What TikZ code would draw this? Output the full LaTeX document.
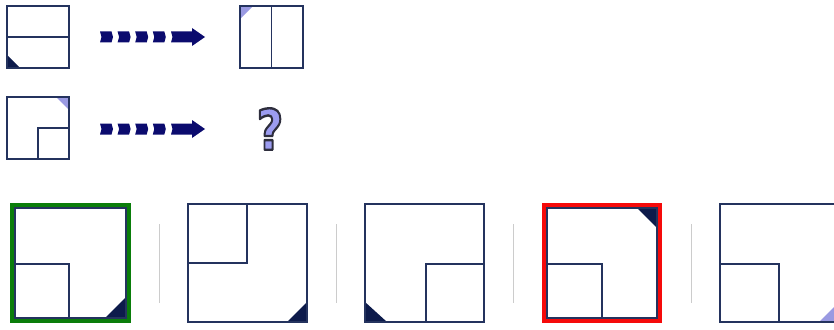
\documentclass[tikz,border=0pt]{standalone}
\usepackage{fontspec}
\newfontfamily\qfont{DejaVu Sans}
\definecolor{boxline}{HTML}{24335E}
\definecolor{darktri}{HTML}{0D1B4B}
\definecolor{lighttri}{HTML}{9A9AE2}
\definecolor{arrownavy}{HTML}{0B0B6E}
\definecolor{qfill}{HTML}{9C9CF0}
\definecolor{okgreen}{HTML}{0A7D0A}
\definecolor{badred}{HTML}{F50A0A}
\definecolor{sepgray}{HTML}{CCCCCC}
\newcommand\outlinedtext[1]{\special{pdf:literal direct 0.18 0.18 0.24 RG 2 Tr 2.4 w 1 j}#1\special{pdf:literal direct 0 Tr}}
\tikzset{
  panel/.style={draw=boxline, line width=1.8pt, fill=white},
  divider/.style={draw=boxline, line width=1.8pt},
  darkcorner/.style={fill=darktri, draw=none},
  lightcorner/.style={fill=lighttri, draw=none},
  arrowpart/.style={fill=arrownavy, draw=none},
  separator/.style={draw=sepgray, line width=1pt},
  goodframe/.style={draw=okgreen, line width=5pt},
  badframe/.style={draw=badred, line width=5pt},
  pics/dasharrow/.style={code={
    \foreach \i in {0,1,2,3}{
      \fill[arrowpart] ({17.6*\i},-5.5) -- ({17.6*\i+11.5},-5.5) -- ({17.6*\i+13},0) -- ({17.6*\i+11.5},5.5) -- ({17.6*\i},5.5) -- ({17.6*\i+1.5},0) -- cycle;
    }
    \fill[arrowpart] (71,-5.5) -- (92,-5.5) -- (92,-9) -- (105,0) -- (92,9) -- (92,5.5) -- (71,5.5) -- (72.5,0) -- cycle;
  }}
}
\begin{document}
\begin{tikzpicture}[x=1pt,y=-1pt]
\useasboundingbox (0,0) rectangle (834,329);
\begin{scope}
\clip (0,0) rectangle (834,329);
% ---- row 1
\draw[panel] (7,6) rectangle (69,68);
\fill[darkcorner] (7,68) -- (20,68) -- (7,55) -- cycle;
\draw[divider] (7,37) -- (69,37);
\draw[boxline, line width=1.8pt] (7,6) rectangle (69,68);
\pic at (100,37) {dasharrow};
\draw[panel] (240,6) rectangle (303,68);
\fill[lightcorner] (240,6) -- (253,6) -- (240,19) -- cycle;
\draw[divider] (271.5,6) -- (271.5,68);
\draw[boxline, line width=1.8pt] (240,6) rectangle (303,68);
% ---- row 2
\draw[panel] (7,97) rectangle (69,159);
\fill[lightcorner] (56,97) -- (69,97) -- (69,110) -- cycle;
\draw[boxline, line width=1.8pt] (7,97) rectangle (69,159);
\draw[divider] (38,159) -- (38,128) -- (69,128);
\pic at (100,129) {dasharrow};
\node (qmark) [text=qfill, font=\qfont\bfseries\fontsize{56}{56}\selectfont, inner sep=0pt, xscale=0.82] at (270,129) {\outlinedtext{?}};
% ---- options
% option 1 (green)
\draw[goodframe] (12.5,205.5) rectangle (128.5,320.5);
\draw[panel] (15,208) rectangle (126,318);
\fill[darkcorner] (105,318) -- (126,318) -- (126,297) -- cycle;
\draw[divider] (15,264) -- (69,264) -- (69,318);
\draw[boxline, line width=1.8pt] (15,208) rectangle (126,318);
\draw[separator] (159,224) -- (159,303);
% option 2
\draw[panel] (188,204) rectangle (307,322);
\fill[darkcorner] (287,322) -- (307,322) -- (307,302) -- cycle;
\draw[divider] (188,263) -- (247,263) -- (247,204);
\draw[boxline, line width=1.8pt] (188,204) rectangle (307,322);
\draw[separator] (336,224) -- (336,303);
% option 3
\draw[panel] (365,204) rectangle (484,322);
\fill[darkcorner] (365,322) -- (387,322) -- (365,302) -- cycle;
\draw[divider] (426,322) -- (426,264) -- (484,264);
\draw[boxline, line width=1.8pt] (365,204) rectangle (484,322);
\draw[separator] (513,224) -- (513,303);
% option 4 (red)
\draw[badframe] (544.5,205.5) rectangle (659.5,320.5);
\draw[panel] (547,208) rectangle (657,318);
\fill[darkcorner] (637,208) -- (657,208) -- (657,228) -- cycle;
\draw[divider] (547,264) -- (602,264) -- (602,318);
\draw[boxline, line width=1.8pt] (547,208) rectangle (657,318);
\draw[separator] (691,224) -- (691,303);
% option 5
\draw[panel] (720,204) rectangle (839,322);
\fill[lightcorner] (819,322) -- (839,322) -- (839,302) -- cycle;
\draw[divider] (720,264) -- (779,264) -- (779,322);
\draw[boxline, line width=1.8pt] (720,204) rectangle (839,322);
\end{scope}
\end{tikzpicture}
\end{document}
